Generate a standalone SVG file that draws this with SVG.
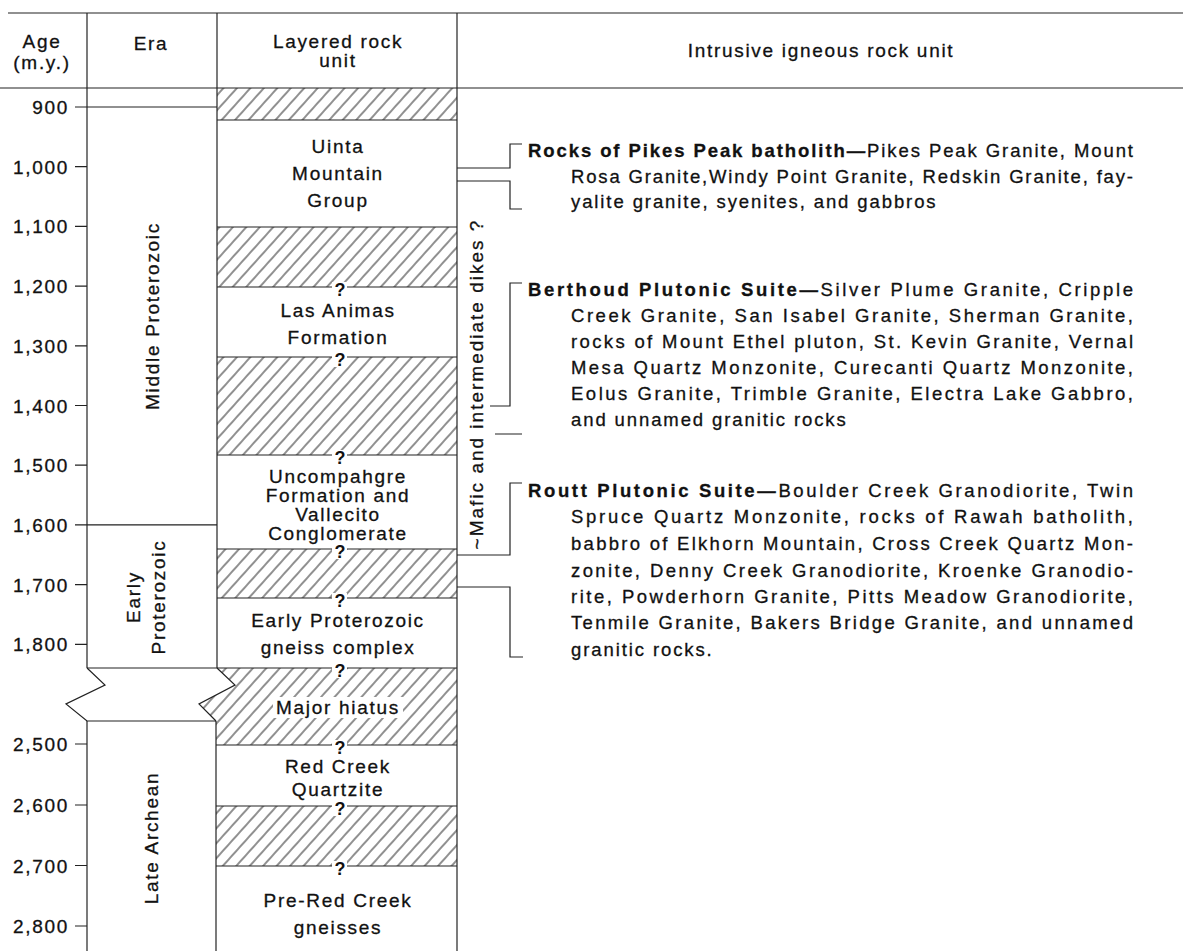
<svg xmlns="http://www.w3.org/2000/svg" width="1183" height="951" viewBox="0 0 1183 951">
<style>
.t{font-family:"Liberation Sans",Arial,Helvetica,sans-serif;font-size:19px;letter-spacing:1.7px;fill:#111;stroke:#111;stroke-width:0.3}
.c{text-anchor:middle}
.e{text-anchor:end}
.b{font-family:"Liberation Sans",Arial,Helvetica,sans-serif;font-size:18.5px;letter-spacing:1.9px;fill:#111;stroke:#111;stroke-width:0.3}
.j{font-family:"Liberation Sans",Arial,Helvetica,sans-serif;font-size:18.5px;fill:#111;stroke:#111;stroke-width:0.3}
.bd{font-weight:bold}
.q{font-family:"Liberation Sans",Arial,Helvetica,sans-serif;font-size:18px;font-weight:bold;text-anchor:middle;fill:#111}
.ln{stroke:#222;stroke-width:1.2;fill:none}
.hw{fill:#fff}
</style>
<defs>
<pattern id="hatch" patternUnits="userSpaceOnUse" width="10" height="10" patternTransform="rotate(42)">
<line x1="5" y1="-1" x2="5" y2="11" stroke="#222" stroke-width="1"/>
</pattern>
</defs>
<rect width="1183" height="951" fill="#fff"/>

<g id="grid">
<line class="ln" x1="8" y1="13" x2="1183" y2="13"/>
<line class="ln" x1="0" y1="88" x2="1183" y2="88"/>
<line class="ln" x1="87" y1="13" x2="87" y2="668"/>
<line class="ln" x1="87" y1="721" x2="87" y2="951"/>
<line class="ln" x1="217" y1="13" x2="217" y2="668"/>
<line class="ln" x1="216" y1="721" x2="216" y2="951"/>
<line class="ln" x1="457" y1="13" x2="457" y2="951"/>
</g>

<g id="header">
<text class="t c" x="42" y="48">Age</text>
<text class="t c" x="42" y="69">(m.y.)</text>
<text class="t c" x="151" y="50">Era</text>
<text class="t c" x="338" y="48">Layered rock</text>
<text class="t c" x="338" y="67">unit</text>
<text class="t c" x="821" y="57">Intrusive igneous rock unit</text>
</g>

<g id="age-scale">
<path class="ln" d="M75,107H87M75,166.7H87M75,226.4H87M75,286.1H87M75,345.8H87M75,405.5H87M75,465.2H87M75,524.9H87M75,584.6H87M75,644.3H87M75,744H87M75,805H87M75,865.5H87M75,926H87"/>
<text class="t e" x="69" y="114">900</text>
<text class="t e" x="69" y="173.7">1,000</text>
<text class="t e" x="69" y="233.4">1,100</text>
<text class="t e" x="69" y="293.1">1,200</text>
<text class="t e" x="69" y="352.8">1,300</text>
<text class="t e" x="69" y="412.5">1,400</text>
<text class="t e" x="69" y="472.2">1,500</text>
<text class="t e" x="69" y="531.9">1,600</text>
<text class="t e" x="69" y="591.6">1,700</text>
<text class="t e" x="69" y="651.3">1,800</text>
<text class="t e" x="69" y="751">2,500</text>
<text class="t e" x="69" y="812">2,600</text>
<text class="t e" x="69" y="872.5">2,700</text>
<text class="t e" x="69" y="933">2,800</text>
</g>

<g id="era-middle-proterozoic">
<path class="ln" d="M87,107H217M87,524.9H217"/>
<text class="t c" transform="translate(159,316) rotate(-90)">Middle Proterozoic</text>
</g>
<g id="era-early-proterozoic">
<path class="ln" d="M87,668H217"/>
<text class="t c" transform="translate(140,597) rotate(-90)">Early</text>
<text class="t c" transform="translate(165,597) rotate(-90)">Proterozoic</text>
</g>
<g id="break">
<path class="ln" d="M87,668L105,685L66,704L87,721H216"/>
<path class="ln" d="M217,668L235,685L199,704L216,721"/>
</g>
<g id="era-late-archean">
<text class="t c" transform="translate(158,838) rotate(-90)">Late Archean</text>
</g>

<g id="layered-units">
<rect x="217" y="88" width="240" height="32" fill="url(#hatch)"/>
<rect x="217" y="227" width="240" height="60" fill="url(#hatch)"/>
<rect x="217" y="357" width="240" height="98" fill="url(#hatch)"/>
<rect x="217" y="549" width="240" height="49" fill="url(#hatch)"/>
<polygon points="217,668 457,668 457,745 216,745 216,721 199,704 235,685" fill="url(#hatch)"/>
<rect x="216" y="806" width="241" height="60" fill="url(#hatch)"/>
<path class="ln" d="M217,120H457M217,227H457M217,287H457M217,357H457M217,455H457M217,549H457M217,598H457M217,668H457M216,745H457M216,806H457M216,866H457"/>
</g>

<g id="unit-uinta"><text class="t c" x="338" y="153">Uinta</text><text class="t c" x="338" y="180">Mountain</text><text class="t c" x="338" y="207">Group</text></g>
<g id="unit-las-animas"><text class="t c" x="338" y="317">Las Animas</text><text class="t c" x="338" y="344">Formation</text></g>
<g id="unit-uncompahgre"><text class="t c" x="338" y="483">Uncompahgre</text><text class="t c" x="338" y="502">Formation and</text><text class="t c" x="338" y="521">Vallecito</text><text class="t c" x="338" y="540">Conglomerate</text></g>
<g id="unit-early-gneiss"><text class="t c" x="338" y="627">Early Proterozoic</text><text class="t c" x="338" y="654">gneiss complex</text></g>
<g id="unit-major-hiatus"><rect class="hw" x="273" y="697" width="130" height="21"/><text class="t c" x="338" y="714">Major hiatus</text></g>
<g id="unit-red-creek"><text class="t c" x="338" y="773">Red Creek</text><text class="t c" x="338" y="796">Quartzite</text></g>
<g id="unit-pre-red-creek"><text class="t c" x="338" y="907">Pre-Red Creek</text><text class="t c" x="338" y="934">gneisses</text></g>

<g id="question-marks">
<rect class="hw" x="332" y="282" width="15" height="15"/><text class="q" x="340" y="296">?</text>
<rect class="hw" x="332" y="352" width="15" height="15"/><text class="q" x="340" y="366">?</text>
<rect class="hw" x="332" y="450" width="15" height="15"/><text class="q" x="340" y="464">?</text>
<rect class="hw" x="332" y="544" width="15" height="15"/><text class="q" x="340" y="558">?</text>
<rect class="hw" x="332" y="593" width="15" height="15"/><text class="q" x="340" y="607">?</text>
<rect class="hw" x="332" y="663" width="15" height="15"/><text class="q" x="340" y="677">?</text>
<rect class="hw" x="332" y="740" width="15" height="15"/><text class="q" x="340" y="754">?</text>
<rect class="hw" x="332" y="801" width="15" height="15"/><text class="q" x="340" y="815">?</text>
<rect class="hw" x="332" y="861" width="15" height="15"/><text class="q" x="340" y="875">?</text>
</g>

<g id="dikes">
<text class="t c" transform="translate(483,384) rotate(-90)" style="letter-spacing:2px">~Mafic and intermediate dikes ?</text>
</g>

<g id="connectors">
<path class="ln" d="M522,144H510V168H457M457,181H510V209H522"/>
<path class="ln" d="M522,283H510V406H490M495,434H522"/>
<path class="ln" d="M522,483H510V555H457M457,587H510V657H523"/>
</g>

<g id="pikes-peak">
<text class="j" x="528" y="157" textLength="605" lengthAdjust="spacing"><tspan class="bd">Rocks of Pikes Peak batholith—</tspan>Pikes Peak Granite, Mount</text>
<text class="j" x="571" y="183" textLength="562" lengthAdjust="spacing">Rosa Granite,Windy Point Granite, Redskin Granite, fay-</text>
<text class="b" x="571" y="208">yalite granite, syenites, and gabbros</text>
</g>

<g id="berthoud">
<text class="j" x="528" y="296" textLength="605" lengthAdjust="spacing"><tspan class="bd">Berthoud Plutonic Suite—</tspan>Silver Plume Granite, Cripple</text>
<text class="j" x="571" y="322" textLength="562" lengthAdjust="spacing">Creek Granite, San Isabel Granite, Sherman Granite,</text>
<text class="j" x="571" y="348" textLength="562" lengthAdjust="spacing">rocks of Mount Ethel pluton, St. Kevin Granite, Vernal</text>
<text class="j" x="571" y="374" textLength="562" lengthAdjust="spacing">Mesa Quartz Monzonite, Curecanti Quartz Monzonite,</text>
<text class="j" x="571" y="400" textLength="562" lengthAdjust="spacing">Eolus Granite, Trimble Granite, Electra Lake Gabbro,</text>
<text class="b" x="571" y="426">and unnamed granitic rocks</text>
</g>

<g id="routt">
<text class="j" x="528" y="497" textLength="605" lengthAdjust="spacing"><tspan class="bd">Routt Plutonic Suite—</tspan>Boulder Creek Granodiorite, Twin</text>
<text class="j" x="571" y="523" textLength="562" lengthAdjust="spacing">Spruce Quartz Monzonite, rocks of Rawah batholith,</text>
<text class="j" x="571" y="550" textLength="562" lengthAdjust="spacing">babbro of Elkhorn Mountain, Cross Creek Quartz Mon-</text>
<text class="j" x="571" y="577" textLength="562" lengthAdjust="spacing">zonite, Denny Creek Granodiorite, Kroenke Granodio-</text>
<text class="j" x="571" y="603" textLength="562" lengthAdjust="spacing">rite, Powderhorn Granite, Pitts Meadow Granodiorite,</text>
<text class="j" x="571" y="629" textLength="562" lengthAdjust="spacing">Tenmile Granite, Bakers Bridge Granite, and unnamed</text>
<text class="b" x="571" y="656">granitic rocks.</text>
</g>
</svg>
